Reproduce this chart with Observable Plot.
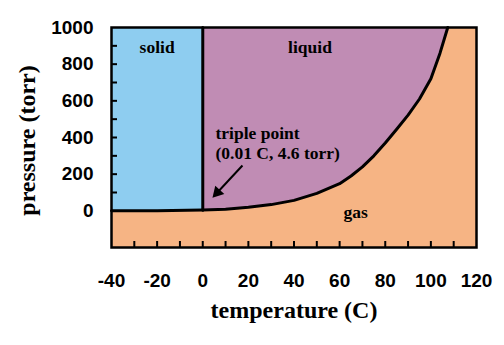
<!DOCTYPE html>
<html>
<head>
<meta charset="utf-8">
<script src="https://cdn.jsdelivr.net/npm/d3@7"></script>
<script src="https://cdn.jsdelivr.net/npm/@observablehq/plot@0.6"></script>
<style>
  html, body { margin: 0; padding: 0; background: #ffffff; }
  #chart svg { display: block; }
</style>
</head>
<body>
<div id="chart"></div>
<script>
// ---- data ----
const sublimationT = [-40, -20, 0.01];
const sublimationP = [0.1, 0.8, 4.6];
const fusionT = [0.01, 0.01];
const fusionP = [4.6, 1000];
const vaporT = [0.01, 10, 20, 30, 40, 50, 60, 65, 70, 75, 80, 85, 90, 95, 100, 104, 107.4];
const vaporP = [4.6, 9, 19, 34, 57, 95, 148, 190, 240, 300, 370, 445, 522, 610, 720, 860, 1000];
const pTop = 1000;

const xTickLabels = [-40, -20, 0, 20, 40, 60, 80, 100, 120];
const xMinorTicks = [-30, -20, -10, 0, 10, 20, 30, 40, 50, 60, 70, 80, 90, 100, 110];
const yTickLabels = [0, 200, 400, 600, 800, 1000];
const yMinorTicks = [100, 200, 300, 400, 500, 600, 700, 800, 900];

const regionNames = ["solid", "liquid", "gas"];
const regionT = [-20, 47, 67];
const regionP = [894, 894, -11];

const noteLines = ["triple point", "(0.01 C, 4.6 torr)"];
const noteT = [5.6, 5.6];
const noteP = [425, 313];

const arrowFrom = {t: 17.4, p: 247};
const arrowTo = {t: 6.4, p: 100};
const arrowHead = {t: 6.4, p: 100};

const xTitle = "temperature (C)";
const yTitle = "pressure (torr)";

const colors = {solid: "#8ecdf0", liquid: "#c08cb4", gas: "#f6b484"};

const serif = "'Liberation Serif', 'Times New Roman', serif";
const sans = "'Liberation Sans', Arial, sans-serif";

const sub = sublimationT.map((t, i) => ({t, p: sublimationP[i]}));
const fus = fusionT.map((t, i) => ({t, p: fusionP[i]}));
const vap = vaporT.map((t, i) => ({t, p: vaporP[i]}));
const regions = regionNames.map((name, i) => ({name, t: regionT[i], p: regionP[i]}));
const notes = noteLines.map((s, i) => ({s, t: noteT[i], p: noteP[i]}));

const chart = Plot.plot({
  width: 504,
  height: 345,
  marginLeft: 111,
  marginRight: 28,
  marginTop: 27,
  marginBottom: 98,
  x: {domain: [-40, 120], axis: null},
  y: {domain: [-200, 1000], axis: null},
  style: {background: "#ffffff", color: "black"},
  marks: [
    Plot.frame({fill: colors.gas}),
    Plot.areaY(sub, {x: "t", y1: "p", y2: pTop, fill: colors.solid}),
    Plot.areaY(vap, {x: "t", y1: "p", y2: pTop, fill: colors.liquid}),
    Plot.line(sub, {x: "t", y: "p", stroke: "black", strokeWidth: 3}),
    Plot.line(fus, {x: "t", y: "p", stroke: "black", strokeWidth: 3}),
    Plot.line(vap, {x: "t", y: "p", stroke: "black", strokeWidth: 3}),
    Plot.link([arrowFrom], {x1: "t", y1: "p", x2: d => arrowTo.t, y2: d => arrowTo.p, stroke: "black", strokeWidth: 2}),
    Plot.dot([arrowHead], {x: "t", y: "p", symbol: "triangle", r: 4.6, fill: "black", stroke: "none", rotate: 223}),
    Plot.text(regions, {x: "t", y: "p", text: "name", fontFamily: serif, fontWeight: "bold", fontSize: 17.5, fill: "black"}),
    Plot.text(notes, {x: "t", y: "p", text: "s", textAnchor: "start", fontFamily: serif, fontWeight: "bold", fontSize: 17.5, fill: "black"}),
    Plot.axisX({ticks: xMinorTicks, tickSize: -6, strokeWidth: 2, tickFormat: () => "", label: null}),
    Plot.axisY({ticks: yMinorTicks, tickSize: -6, strokeWidth: 2, tickFormat: () => "", label: null}),
    Plot.axisX({ticks: xTickLabels, tickSize: 0, tickPadding: 26, tickFormat: d => String(d), fontFamily: sans, fontWeight: "bold", fontSize: 19, fill: "black", label: null}),
    Plot.axisY({ticks: yTickLabels, tickSize: 0, tickPadding: 18, tickFormat: d => String(d), fontFamily: sans, fontWeight: "bold", fontSize: 19, fill: "black", label: null}),
    Plot.text([xTitle], {frameAnchor: "bottom", lineAnchor: "middle", textAnchor: "middle", dy: 63, text: d => d, fontFamily: serif, fontWeight: "bold", fontSize: 24, fill: "black"}),
    Plot.text([yTitle], {frameAnchor: "left", lineAnchor: "middle", textAnchor: "middle", dx: -84, dy: 3, rotate: -90, text: d => d, fontFamily: serif, fontWeight: "bold", fontSize: 24, fill: "black"}),
    Plot.frame({stroke: "black", strokeWidth: 2.5})
  ]
});
document.getElementById("chart").appendChild(chart);
</script>
</body>
</html>
